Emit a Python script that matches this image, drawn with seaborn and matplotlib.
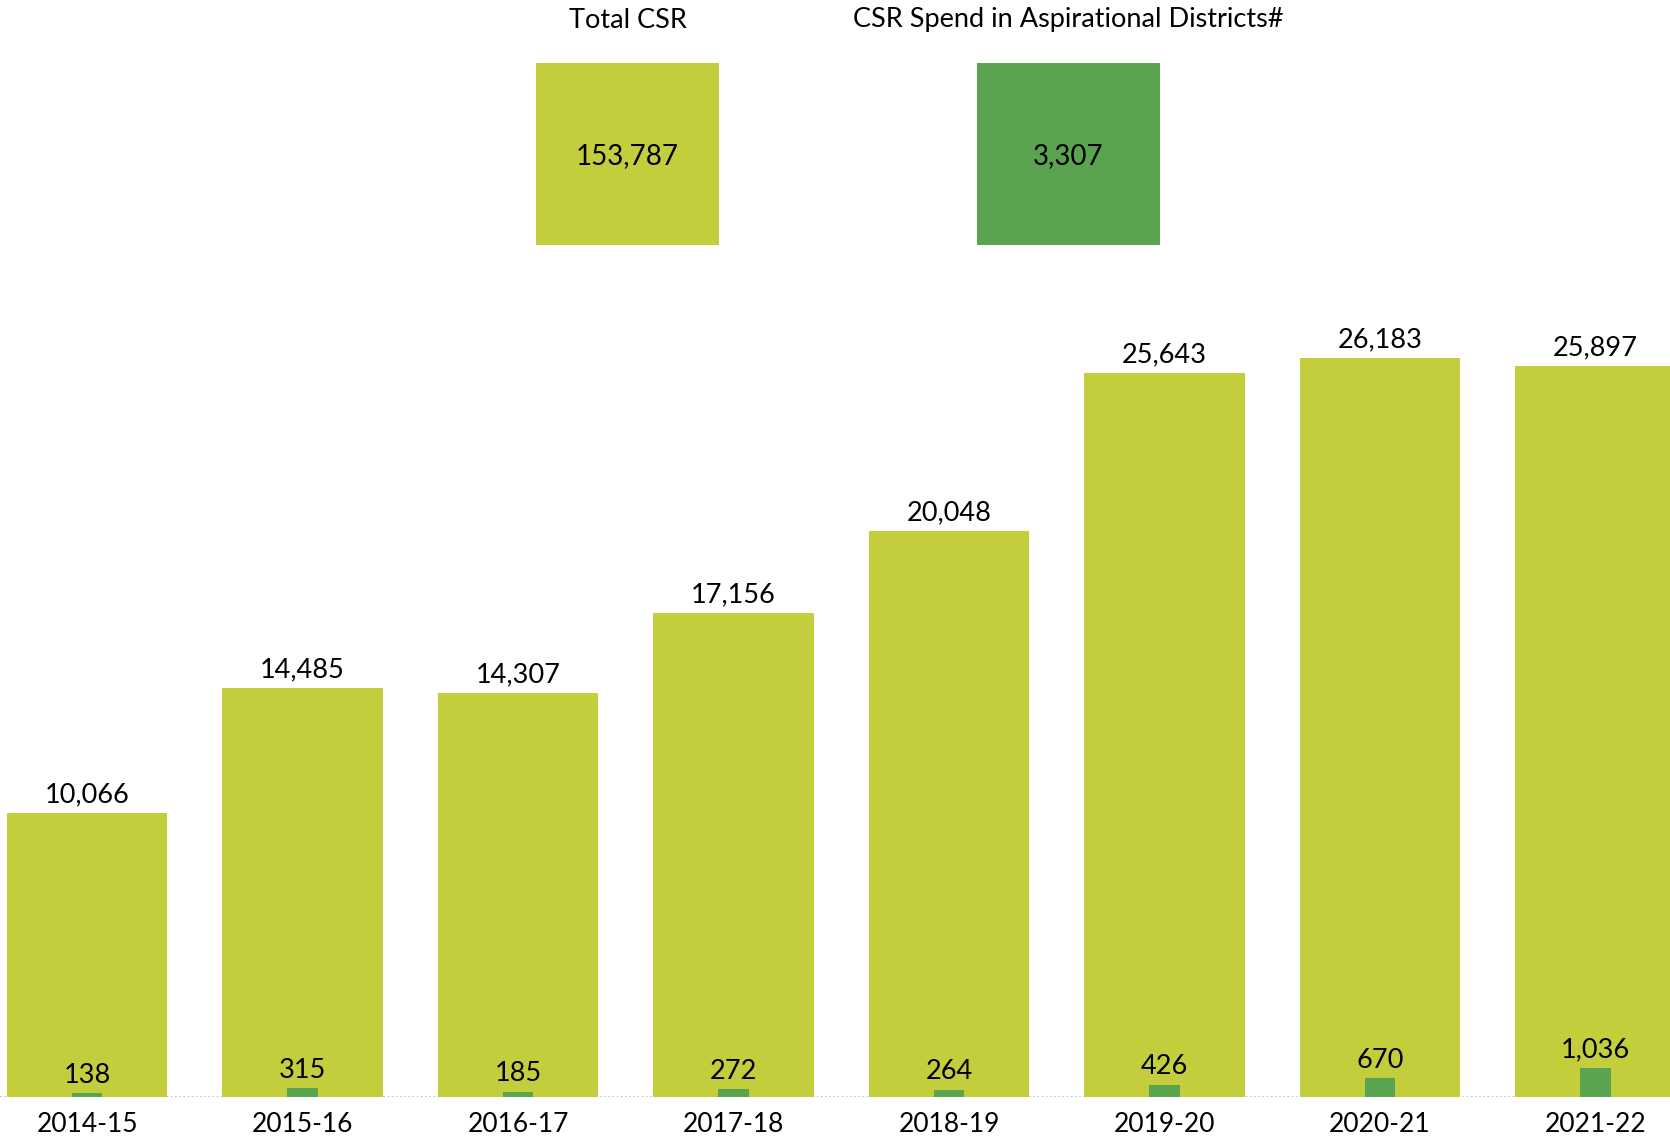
import pandas as pd
import matplotlib.pyplot as plt
import seaborn as sns

years = ["2014-15", "2015-16", "2016-17", "2017-18", "2018-19", "2019-20", "2020-21", "2021-22"]
total_csr = [10066, 14485, 14307, 17156, 20048, 25643, 26183, 25897]
aspirational = [138, 315, 185, 272, 264, 426, 670, 1036]
total_sum = 153787
aspirational_sum = 3307

LIGHT = "#C4CE3C"
DARK = "#5BA44F"

df = pd.DataFrame({"Year": years, "Total CSR": total_csr, "Aspirational": aspirational})

sns.set_theme(style="white")
plt.rcParams["font.family"] = ["Lato", "DejaVu Sans"]
plt.rcParams["text.color"] = "black"
plt.rcParams["xtick.color"] = "black"

fig = plt.figure(figsize=(16.7, 11.37), dpi=100)
ax = fig.add_axes([0, 1 - 1097 / 1137, 1, (1097 - 260) / 1137])

sns.barplot(data=df, x="Year", y="Total CSR", color=LIGHT, width=0.747,
            saturation=1, linewidth=0, ax=ax)
sns.barplot(data=df, x="Year", y="Aspirational", color=DARK, width=0.14,
            saturation=1, linewidth=0, ax=ax)

ax.bar_label(ax.containers[0], labels=[f"{v:,}" for v in total_csr],
             padding=4, fontsize=19.5, color="black")
ax.bar_label(ax.containers[1], labels=[f"{v:,}" for v in aspirational],
             padding=4, fontsize=19.5, color="black")

ax.axhline(0, color="#bbbbbb", lw=1.2, ls=(0, (1, 1.5)), zorder=0.5)
ax.set_xlim(-87 / 215.5, (1670 - 87) / 215.5)
ax.set_ylim(0, 837 / 0.02822)
ax.set_xlabel("")
ax.set_ylabel("")
ax.set_yticks([])
ax.tick_params(axis="x", length=0, pad=11, labelsize=19, labelcolor="black")
for s in ax.spines.values():
    s.set_visible(False)

# summary tiles
tiles = [("Total CSR", total_sum, LIGHT, 536), ("CSR Spend in Aspirational Districts#", aspirational_sum, DARK, 977)]
for title, value, color, left in tiles:
    tax = fig.add_axes([left / 1670, 1 - 245 / 1137, 183 / 1670, 182 / 1137])
    tax.set_facecolor(color)
    tax.set_xticks([])
    tax.set_yticks([])
    for s in tax.spines.values():
        s.set_visible(False)
    tax.text(0.5, 0.49, f"{value:,}", ha="center", va="center", fontsize=20,
             color="black", transform=tax.transAxes)
    fig.text((left + 91.5) / 1670, 1 - 20 / 1137, title, ha="center", va="center",
             fontsize=19.5, color="black")

fig.savefig("out.png", dpi=100)
